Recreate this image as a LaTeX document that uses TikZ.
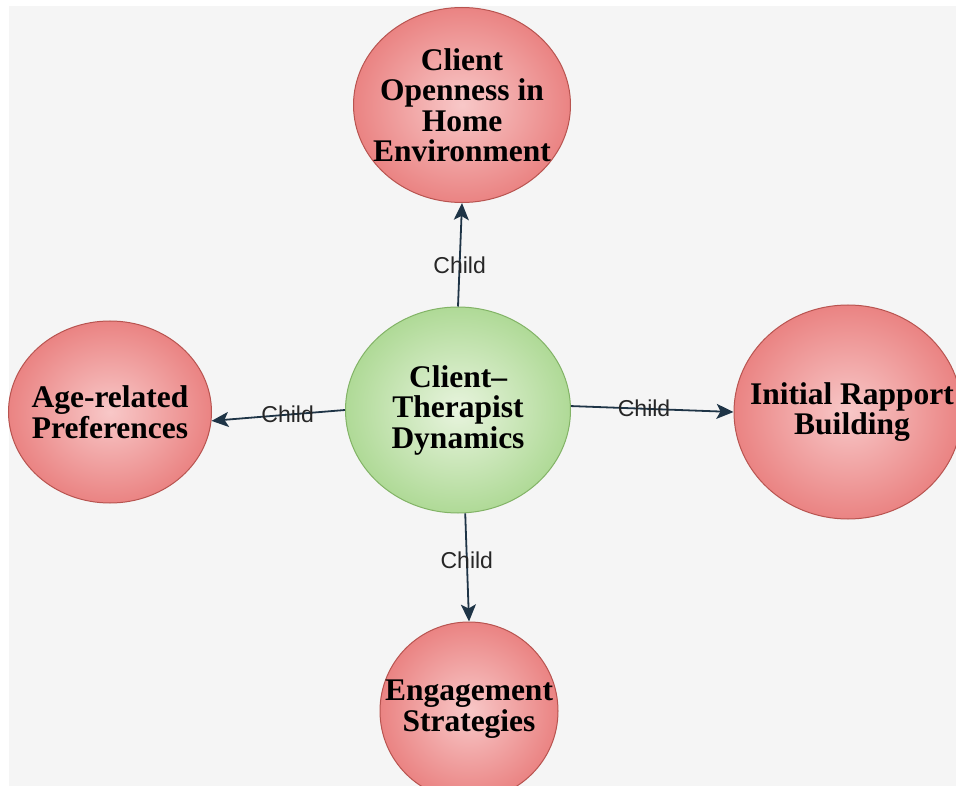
\documentclass[tikz,border=0pt]{standalone}
\usepackage{fontspec}
\setmainfont{Liberation Serif}
\newfontfamily\labelfont{Liberation Sans}
\usetikzlibrary{shapes.geometric,arrows.meta}

\definecolor{pagebg}{HTML}{F5F5F5}
\definecolor{redin}{HTML}{F8C8C8}
\definecolor{redout}{HTML}{E46564}
\definecolor{redline}{HTML}{B85450}
\definecolor{greenin}{HTML}{E8F4DE}
\definecolor{greenout}{HTML}{96CE77}
\definecolor{greenline}{HTML}{82B366}
\definecolor{linkcol}{HTML}{1E3446}

\pgfdeclareradialshading{redball}{\pgfpoint{0bp}{0bp}}{%
  color(0bp)=(redin); color(36bp)=(redout); color(70bp)=(redout)}
\pgfdeclareradialshading{greenball}{\pgfpoint{0bp}{0bp}}{%
  color(0bp)=(greenin); color(36bp)=(greenout); color(70bp)=(greenout)}

\tikzset{
  topic/.style={ellipse, inner sep=0pt, line width=1pt},
  topictext/.style={align=center, inner sep=0pt,
    font=\fontsize{31.5}{30.5}\selectfont\bfseries},
  childtopic/.style={topic, draw=redline, shading=redball},
  coretopic/.style={topic, draw=greenline, shading=greenball},
  link/.style={draw=linkcol, line width=1.8pt,
    -{Stealth[length=17pt,width=15pt,inset=4pt]}},
  linklabel/.style={font=\labelfont\fontsize{23}{26}\selectfont,
    text=black!85, inner sep=0pt}
}

\begin{document}
\begin{tikzpicture}[x=1pt,y=-1pt]
  \useasboundingbox (0,0) rectangle (956,786);
  \fill[white] (0,0) rectangle (956,786);
  \fill[pagebg] (9,6) rectangle (956,786);
  \clip (0,0) rectangle (956,786);

  % central topic
  \node[coretopic, minimum width=225pt, minimum height=206pt,
    label={[topictext, name=core-text]center:Client--\\Therapist\\Dynamics}]
    (core) at (458,410) {};

  % child topics
  \node[childtopic, minimum width=217pt, minimum height=195pt,
    label={[topictext, name=home-text]center:Client\\Openness in\\Home\\Environment}]
    (home) at (462,105) {};
  \node[childtopic, minimum width=203pt, minimum height=182pt,
    label={[topictext, name=age-text]center:Age-related\\Preferences}]
    (age) at (110,412) {};
  \node[childtopic, minimum width=228pt, minimum height=214pt,
    label={[topictext, name=rapport-text, xshift=4pt]center:Initial Rapport\\Building}]
    (rapport) at (848,412) {};
  \node[childtopic, minimum width=178pt, minimum height=178pt,
    label={[topictext, name=engage-text, yshift=2pt]center:Engagement\\Strategies}]
    (engage) at (469,711) {};

  % connectors
  \draw[link] (core.90) -- (home.-90) node[linklabel, pos=0.4] {Child};
  \draw[link] (core.180) -- (age.-5) node[linklabel, pos=0.43] {Child};
  \draw[link] (core.2) -- (rapport.180) node[linklabel, pos=0.45] {Child};
  \draw[link] (core.-86) -- (engage.90) node[linklabel, pos=0.43] {Child};
\end{tikzpicture}
\end{document}
